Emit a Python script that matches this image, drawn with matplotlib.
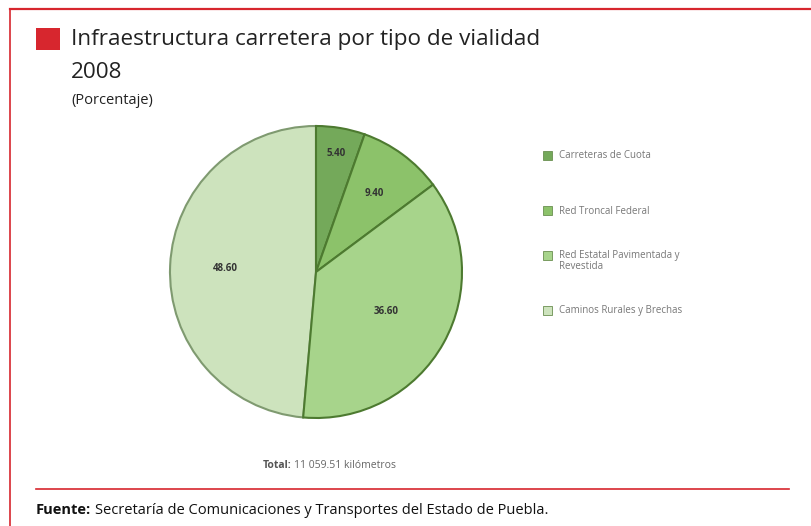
import matplotlib
matplotlib.use("Agg")
import matplotlib.pyplot as plt
from matplotlib.patches import Rectangle
from matplotlib.lines import Line2D
import numpy as np

categories = ["Carreteras de Cuota", "Red Troncal Federal",
              "Red Estatal Pavimentada y\nRevestida", "Caminos Rurales y Brechas"]
values = [5.40, 9.40, 36.60, 48.60]
value_labels = ["5.40", "9.40", "36.60", "48.60"]
colors = ["#74a95a", "#8cc26a", "#a7d48b", "#cde3bd"]

W, H = 811, 526
fig = plt.figure(figsize=(W / 100, H / 100), dpi=100)
fig.patch.set_facecolor("white")
plt.rcParams['font.family'] = ['Open Sans', 'DejaVu Sans']

def fx(x):
    return x / W

def fy(y):
    return 1 - y / H

red = "#d7262e"
# frame lines
fig.add_artist(Line2D([fx(10), 1.0], [fy(9), fy(9)], color=red, lw=1.6))
fig.add_artist(Line2D([fx(10), fx(10)], [fy(9), 0.0], color=red, lw=1.2))
fig.add_artist(Line2D([fx(36), fx(789)], [fy(489), fy(489)], color=red, lw=1.2))
# red square
fig.add_artist(Rectangle((fx(36), fy(50)), fx(24), 22 / H, color=red, lw=0))

fig.text(fx(71), fy(40), "Infraestructura carretera por tipo de vialidad",
         fontsize=16.2, color="#222222", va="center", ha="left")
fig.text(fx(71), fy(73), "2008", fontsize=16.2, color="#222222", va="center", ha="left")
fig.text(fx(71), fy(101), "(Porcentaje)", fontsize=10.5, color="#222222", va="center", ha="left")

# pie
cx, cy, r = 316, 272, 146
box = 320
ax = fig.add_axes([fx(cx - box / 2), fy(cy + box / 2), box / W, box / H])
wedges, _ = ax.pie(values, colors=colors, startangle=90, counterclock=False,
                   radius=1.0,
                   wedgeprops=dict(edgecolor="#4d7a30", linewidth=1.5))
wedges[3].set_edgecolor("#7f9a70")
wedges[3].set_zorder(0)
lim = (box / 2) / r
ax.set_xlim(-lim, lim)
ax.set_ylim(-lim, lim)
ax.axis("off")

label_r = [0.82, 0.67, 0.55, 0.62]
cum = 0
for v, lab, lr in zip(values, value_labels, label_r):
    mid = 90 - (cum + v / 2) / 100 * 360
    cum += v
    ax.text(lr * np.cos(np.radians(mid)), lr * np.sin(np.radians(mid)), lab,
            ha="center", va="center", fontsize=7, fontweight="bold", color="#333333")

# legend
leg_y = [156, 211, 256, 311]
for cat, col, ly in zip(categories, colors, leg_y):
    fig.add_artist(Rectangle((fx(543), fy(ly + 4)), 9 / W, 9 / H,
                             facecolor=col, edgecolor="#6a8f50", lw=0.6))
    if "\n" in cat:
        fig.text(fx(559), fy(ly - 6), cat, fontsize=7, color="#777777",
                 va="top", ha="left", linespacing=1.0)
    else:
        fig.text(fx(559), fy(ly), cat, fontsize=7, color="#777777",
                 va="center", ha="left")

tt = fig.text(fx(263), fy(466), "Total:", fontsize=7.5, fontweight="bold",
              color="#555555", ha="left", va="center")
fig.canvas.draw()
bt = tt.get_window_extent()
fig.text((bt.x1 + 2) / W, fy(466), "11 059.51 kilómetros", fontsize=7.5,
         color="#666666", ha="left", va="center")

t1 = fig.text(fx(36), fy(510), "Fuente:", fontsize=10.5, fontweight="bold",
              color="#111111", ha="left", va="center")
fig.canvas.draw()
bb = t1.get_window_extent()
fig.text((bb.x1 + 4) / W, fy(510), "Secretaría de Comunicaciones y Transportes del Estado de Puebla.",
         fontsize=10.5, color="#111111", ha="left", va="center")

fig.savefig("out.png", dpi=100)
